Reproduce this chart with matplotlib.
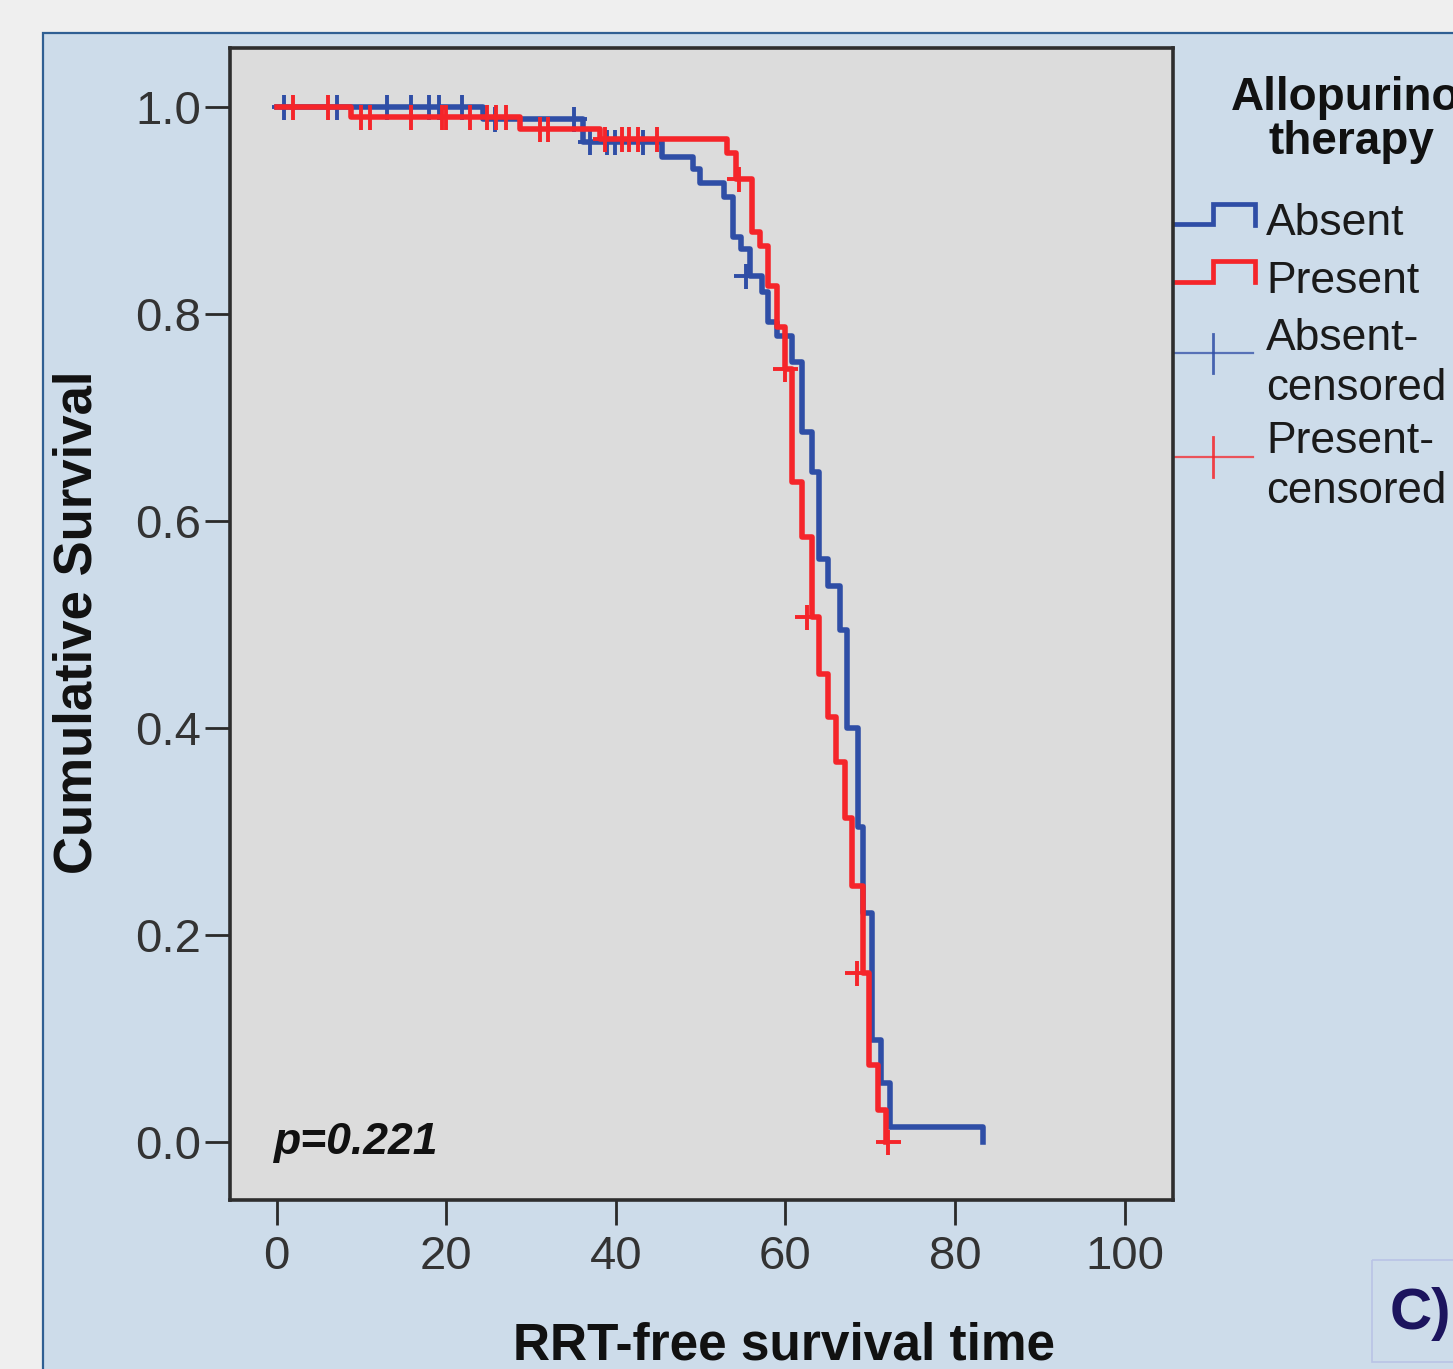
import matplotlib
matplotlib.use("Agg")
import matplotlib.pyplot as plt
from matplotlib.patches import Rectangle

plt.rcParams['font.family'] = ['Liberation Sans', 'DejaVu Sans']

# ---------------- data ----------------
# Absent group: event times and survival after each event
absent_t = [0, 24.3, 36.1, 45.5, 49.1, 49.9, 52.8, 53.8, 54.8, 55.8, 57.2, 57.9,
            59.0, 60.8, 61.9, 63.1, 64.0, 65.0, 66.4, 67.3, 68.5, 69.1, 70.2,
            71.3, 72.3, 83.3]
absent_s = [1.0, 0.988, 0.966, 0.952, 0.940, 0.927, 0.913, 0.874, 0.863, 0.837,
            0.821, 0.792, 0.779, 0.754, 0.686, 0.647, 0.563, 0.537, 0.495, 0.400,
            0.304, 0.221, 0.099, 0.057, 0.0145, 0.0]
# Present group
present_t = [0, 8.8, 28.7, 38.1, 53.1, 54.2, 56.0, 57.0, 57.9, 59.0, 59.9, 60.8,
             61.9, 63.1, 64.0, 65.0, 66.0, 67.0, 67.9, 69.1, 69.9, 70.9, 71.9]
present_s = [1.0, 0.990, 0.979, 0.969, 0.956, 0.930, 0.879, 0.866, 0.827, 0.787,
             0.747, 0.638, 0.585, 0.507, 0.452, 0.411, 0.367, 0.313, 0.247, 0.163,
             0.074, 0.031, 0.0]
# censored observations
absent_cens_t = [0.9, 7.1, 13.0, 15.9, 18.0, 19.2, 21.9, 25.7, 35.1, 36.9, 39.0,
                 39.9, 43.2, 55.4]
absent_cens_s = [1.0, 1.0, 1.0, 1.0, 1.0, 1.0, 1.0, 0.988, 0.988, 0.966, 0.966,
                 0.966, 0.966, 0.837]
present_cens_t = [1.9, 6.0, 10.0, 11.0, 15.9, 19.5, 20.0, 22.8, 24.8, 25.9, 27.1,
                  31.0, 32.0, 38.7, 40.7, 41.6, 42.6, 44.9, 54.5, 60.0, 62.5,
                  68.4, 72.1]
present_cens_s = [1.0, 1.0, 0.990, 0.990, 0.990, 0.990, 0.990, 0.990, 0.990,
                  0.990, 0.990, 0.979, 0.979, 0.969, 0.969, 0.969, 0.969, 0.969,
                  0.930, 0.747, 0.507, 0.163, 0.0]

xticks = [0, 20, 40, 60, 80, 100]
yticks = [0.0, 0.2, 0.4, 0.6, 0.8, 1.0]
ytick_labels = ["0.0", "0.2", "0.4", "0.6", "0.8", "1.0"]
x_label = "RRT-free survival time"
y_label = "Cumulative Survival"
legend_title = ["Allopurinol", "therapy"]
legend_labels = ["Absent", "Present", "Absent-\ncensored", "Present-\ncensored"]
p_text = "p=0.221"
panel_text = "C)"

BLUE = "#2f4ea6"
RED = "#f5252a"

W, H = 1453, 1369
fig = plt.figure(figsize=(W / 100, H / 100), dpi=100)
fig.patch.set_facecolor("#efefef")

# decoration layer in pixel coordinates
deco = fig.add_axes([0, 0, 1, 1], zorder=0)
deco.set_xlim(0, W)
deco.set_ylim(H, 0)
deco.axis("off")
deco.add_patch(Rectangle((43, 33), W, H, facecolor="#cddcea",
                         edgecolor="#2f5f93", linewidth=1.6))
deco.add_patch(Rectangle((1372, 1260), 200, 102, facecolor="none",
                         edgecolor="#b9c3e6", linewidth=1.2))
deco.text(1390, 1314, panel_text, fontsize=42, fontweight="bold",
          color="#1c145e", ha="left", va="center")

# legend (manual, in SPSS style)
deco.text(1352, 110, legend_title[0], fontsize=33, fontweight="bold",
          ha="center", va="baseline", color="#111111")
deco.text(1351, 154, legend_title[1], fontsize=33, fontweight="bold",
          ha="center", va="baseline", color="#111111")
deco.plot([1173, 1213, 1213, 1255, 1255], [224, 224, 204, 204, 225],
          color=BLUE, lw=3.4, solid_joinstyle="miter")
deco.plot([1173, 1213, 1213, 1255, 1255], [282, 282, 261, 261, 282],
          color=RED, lw=3.4, solid_joinstyle="miter")
deco.plot([1173, 1253], [353, 353], color=BLUE, lw=1.6, alpha=0.75)
deco.plot([1213, 1213], [334, 373], color=BLUE, lw=2.0, alpha=0.85)
deco.plot([1173, 1253], [457, 457], color=RED, lw=1.6, alpha=0.75)
deco.plot([1213, 1213], [437, 477], color=RED, lw=2.0, alpha=0.85)
for txt, yb in [("Absent", 235), ("Present", 293)]:
    deco.text(1266, yb, txt, fontsize=32, ha="left", va="baseline", color="#1a1a1a")
for txt, yb in [(legend_labels[2], 350), (legend_labels[3], 453)]:
    l1, l2 = txt.split("\n")
    deco.text(1266, yb, l1, fontsize=32, ha="left", va="baseline", color="#1a1a1a")
    deco.text(1266, yb + 50, l2, fontsize=31.5, ha="left", va="baseline", color="#1a1a1a")

# main axes
left, right, top, bottom = 230, 1173, 48, 1200
ax = fig.add_axes([left / W, 1 - bottom / H, (right - left) / W, (bottom - top) / H],
                  zorder=1)
ax.set_facecolor("#dcdcdc")

ax.step(absent_t, absent_s, where="post", color=BLUE, lw=4.0, zorder=3)
ax.step(present_t, present_s, where="post", color=RED, lw=4.0, zorder=4)
ax.plot(absent_cens_t, absent_cens_s, linestyle="none", marker="+", ms=18,
        mew=2.8, color=BLUE, zorder=3)
ax.plot(present_cens_t, present_cens_s, linestyle="none", marker="+", ms=18,
        mew=2.8, color=RED, zorder=4)

ax.set_xlim(-5.5, 105.7)
ax.set_ylim(-0.056, 1.057)
ax.set_xticks(xticks)
ax.set_xticklabels([str(v) for v in xticks])
ax.set_yticks(yticks)
ax.set_yticklabels(ytick_labels)
ax.tick_params(axis="both", direction="out", length=18, width=2.0,
               color="#2a2a2a", labelsize=34, labelcolor="#333333")
ax.tick_params(axis="y", pad=3)
ax.tick_params(axis="x", pad=7)
for s in ax.spines.values():
    s.set_color("#2e2e2e")
    s.set_linewidth(2.6)

ax.text(-0.3, 0.0, p_text, fontsize=32, fontweight="bold", fontstyle="italic",
        ha="left", va="center", color="#111111")

# axis labels placed in pixel layer
deco.text(78, 622, y_label, fontsize=38, fontweight="bold", rotation=90,
          ha="center", va="center", color="#111111")
deco.text(784, 1346, x_label, fontsize=37, fontweight="bold",
          ha="center", va="center", color="#111111")

fig.savefig("out.png", dpi=100, facecolor=fig.get_facecolor())
